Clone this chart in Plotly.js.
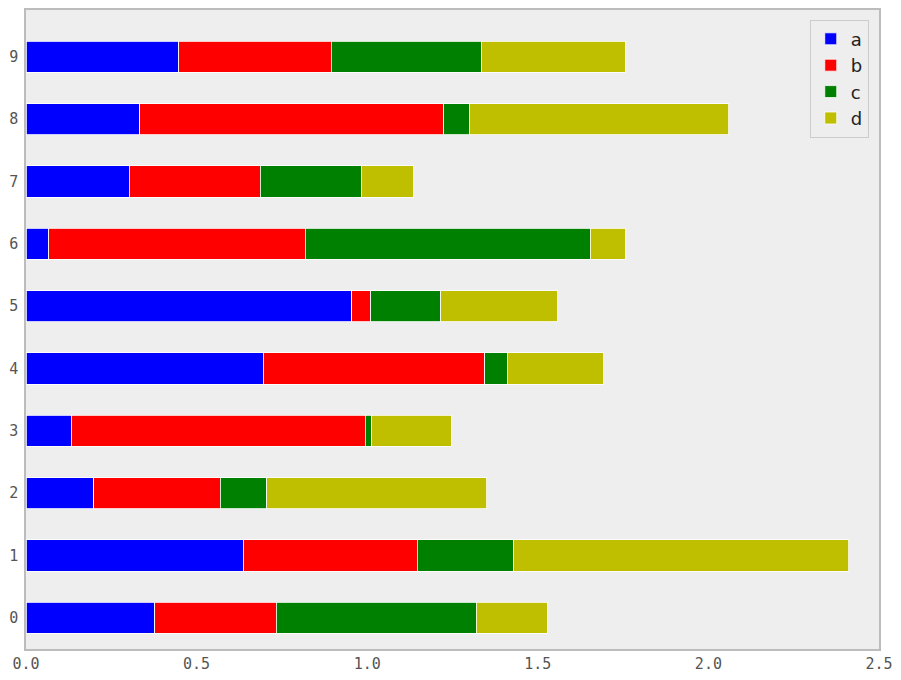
<!DOCTYPE html>
<html>
<head>
<meta charset="utf-8">
<script src="https://cdn.plot.ly/plotly-3.0.1.min.js"></script>
<style>html,body{margin:0;padding:0;background:#fff;}#chart{width:901px;height:680px;}</style>
</head>
<body>
<div id="chart"></div>
<script>
const categories = ["0","1","2","3","4","5","6","7","8","9"];
const seriesNames = ["a","b","c","d"];
const valuesA = [0.378, 0.636, 0.199, 0.132, 0.695, 0.955, 0.067, 0.302, 0.334, 0.448];
const valuesB = [0.355, 0.510, 0.370, 0.862, 0.650, 0.056, 0.751, 0.384, 0.891, 0.446];
const valuesC = [0.586, 0.284, 0.137, 0.020, 0.065, 0.205, 0.835, 0.296, 0.076, 0.442];
const valuesD = [0.208, 0.982, 0.645, 0.232, 0.284, 0.343, 0.105, 0.155, 0.759, 0.420];
const colors = ["#0000ff", "#ff0000", "#008000", "#bfbf00"];
const xTicks = [0, 0.5, 1.0, 1.5, 2.0, 2.5];
const xTickLabels = ["0.0", "0.5", "1.0", "1.5", "2.0", "2.5"];

const allValues = [valuesA, valuesB, valuesC, valuesD];
const traces = allValues.map((vals, i) => ({
  type: "bar",
  orientation: "h",
  name: seriesNames[i],
  x: vals,
  y: categories,
  width: 0.5,
  marker: {color: colors[i], line: {color: "#ffffff", width: 0.8}},
  hoverinfo: "x+y+name"
}));

const layout = {
  width: 901, height: 680,
  margin: {l: 26, r: 22, t: 10, b: 31},
  barmode: "stack",
  paper_bgcolor: "#ffffff",
  plot_bgcolor: "#eeeeee",
  xaxis: {
    range: [0, 2.5],
    tickvals: xTicks,
    ticktext: xTickLabels,
    showgrid: false,
    zeroline: false,
    showline: true, linecolor: "#bcbcbc", linewidth: 1.5, mirror: true,
    ticks: "", ticklen: 0,
    tickfont: {family: "DejaVu Sans Mono", size: 15, color: "#555555"}
  },
  yaxis: {
    type: "category",
    range: [-0.5, 9.75],
    showgrid: false,
    zeroline: false,
    showline: true, linecolor: "#bcbcbc", linewidth: 1.5, mirror: true,
    ticks: "outside", ticklen: 3, tickcolor: "#ffffff",
    tickfont: {family: "DejaVu Sans Mono", size: 15, color: "#555555"}
  },
  legend: {
    x: 0.988, y: 0.985, xanchor: "right", yanchor: "top",
    bgcolor: "#eeeeee", bordercolor: "#cccccc", borderwidth: 1,
    font: {family: "DejaVu Sans", size: 18, color: "#222222"},
    traceorder: "normal"
  },
  showlegend: true
};

Plotly.newPlot("chart", traces, layout, {displayModeBar: false});
</script>
</body>
</html>
